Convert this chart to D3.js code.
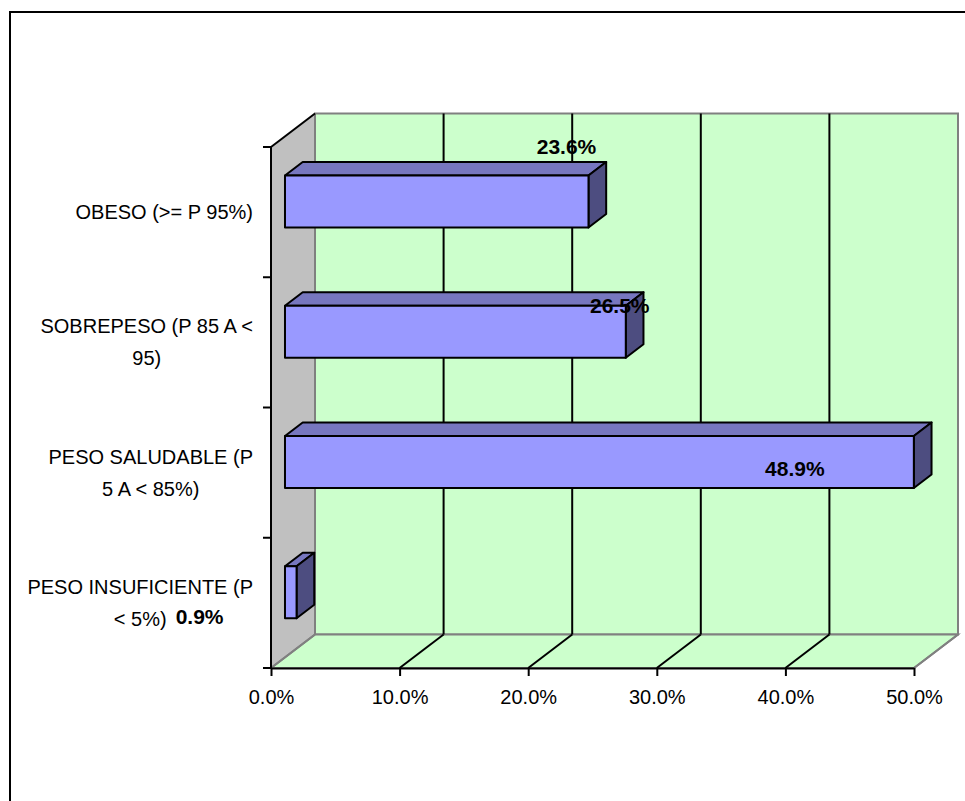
<!DOCTYPE html>
<html>
<head>
<meta charset="utf-8">
<script src="https://cdn.jsdelivr.net/npm/d3@7"></script>
<style>
  html, body { margin: 0; padding: 0; background: #ffffff; }
  svg { display: block; font-family: "Liberation Sans", Arial, sans-serif; }
</style>
</head>
<body>
<svg id="chart" width="965" height="801"></svg>
<script>
// Weight status categories (top to bottom) and their share
const categories = [
  "OBESO (>= P 95%)",
  "SOBREPESO (P 85 A < 95)",
  "PESO SALUDABLE (P 5 A < 85%)",
  "PESO INSUFICIENTE (P < 5%)"
];
const categoryLines = [
  ["OBESO (>= P 95%)"],
  ["SOBREPESO (P 85 A <", "95)"],
  ["PESO SALUDABLE (P", "5 A < 85%)"],
  ["PESO INSUFICIENTE (P", "< 5%)"]
];
const values = [0.236, 0.265, 0.489, 0.009];
const valueLabels = ["23.6%", "26.5%", "48.9%", "0.9%"];
const xTicks = [0, 0.1, 0.2, 0.3, 0.4, 0.5];

// Data label placement relative to the bar's front top-right corner
const labelShift = [[-22, -21], [-6, 7], [-119, 40], [-97, 58]];

const svg = d3.select("#chart");

// Outer chart frame
svg.append("rect")
  .attr("x", 10).attr("y", 12)
  .attr("width", 1000).attr("height", 900)
  .attr("fill", "#ffffff").attr("stroke", "#000").attr("stroke-width", 2);

// Plot geometry: front plane and 3D depth offset
const plotLeft = 271, plotRight = 914, plotTop = 147, plotBottom = 668;
const depth = [44, -33.5];
const x = d3.scaleLinear().domain([0, 0.5]).range([plotLeft, plotRight]);
const y = d3.scaleBand().domain(categories).range([plotTop, plotBottom]).paddingInner(0).paddingOuter(0);

const back = (px, py) => [px + depth[0], py + depth[1]];
const line = d3.line();

// Side wall (grey)
svg.append("path")
  .attr("d", line([[plotLeft, plotTop], back(plotLeft, plotTop), back(plotLeft, plotBottom), [plotLeft, plotBottom]]) + "Z")
  .attr("fill", "#c0c0c0").attr("stroke", "none");

// Back wall (green)
const [bx0, by0] = back(plotLeft, plotTop);
const [bx1, by1] = back(plotRight, plotBottom);
svg.append("rect")
  .attr("x", bx0).attr("y", by0)
  .attr("width", bx1 - bx0).attr("height", by1 - by0)
  .attr("fill", "#ccffcc").attr("stroke", "#808080").attr("stroke-width", 2);

// Floor
svg.append("path")
  .attr("d", line([[plotLeft, plotBottom], back(plotLeft, plotBottom), back(plotRight, plotBottom), [plotRight, plotBottom]]) + "Z")
  .attr("fill", "#ccffcc").attr("stroke", "#808080").attr("stroke-width", 2);

// Gridlines on back wall and floor
xTicks.forEach((t, i) => {
  const fx = x(t);
  const [gx, gy] = back(fx, plotBottom);
  const edge = (i === 0 || i === xTicks.length - 1);
  if (!edge) {
    svg.append("line")
      .attr("x1", gx).attr("x2", gx).attr("y1", by0).attr("y2", gy)
      .attr("stroke", "#000").attr("stroke-width", 2);
  }
  svg.append("line")
    .attr("x1", fx).attr("y1", plotBottom).attr("x2", gx).attr("y2", gy)
    .attr("stroke", edge ? "#808080" : "#000").attr("stroke-width", 2);
});
// Side wall vertical edge against back wall
svg.append("line")
  .attr("x1", bx0).attr("x2", bx0).attr("y1", by0).attr("y2", back(plotLeft, plotBottom)[1])
  .attr("stroke", "#808080").attr("stroke-width", 2);
// Top edge of side wall
svg.append("line")
  .attr("x1", plotLeft).attr("y1", plotTop).attr("x2", bx0).attr("y2", by0)
  .attr("stroke", "#000").attr("stroke-width", 2);

// Bars
const d0 = 0.318, d1 = 0.72;
const barH = y.bandwidth() * 0.4;
const bars = svg.append("g");
categories.forEach((c, i) => {
  const v = values[i];
  const cy = y(c) + y.bandwidth() / 2 + depth[1] * d0;
  const ox = depth[0] * d0;
  const x0 = x(0) + ox, x1 = x(v) + ox;
  const y0 = cy - barH / 2, y1 = cy + barH / 2;
  const ddx = depth[0] * (d1 - d0), ddy = depth[1] * (d1 - d0);
  const g = bars.append("g")
    .attr("stroke", "#000").attr("stroke-width", 2).attr("stroke-linejoin", "round");
  g.append("path")
    .attr("d", line([[x0, y0], [x0 + ddx, y0 + ddy], [x1 + ddx, y0 + ddy], [x1, y0]]) + "Z")
    .attr("fill", "#7777bf");
  g.append("path")
    .attr("d", line([[x1, y0], [x1 + ddx, y0 + ddy], [x1 + ddx, y1 + ddy], [x1, y1]]) + "Z")
    .attr("fill", "#4d4d80");
  g.append("rect")
    .attr("x", x0).attr("y", y0).attr("width", x1 - x0).attr("height", y1 - y0)
    .attr("fill", "#9999ff");
});

// Axes on the front plane
const xAxis = d3.axisBottom(x).tickValues(xTicks).tickFormat(d3.format(".1%"))
  .tickSize(8).tickSizeOuter(0);
const gAxis = svg.append("g").attr("transform", `translate(0,${plotBottom})`).call(xAxis);
gAxis.select(".domain").attr("stroke", "#000").attr("stroke-width", 2);
gAxis.selectAll(".tick line").attr("stroke", "#000").attr("stroke-width", 2);
gAxis.selectAll(".tick text")
  .attr("font-family", "Liberation Sans, Arial, sans-serif")
  .attr("font-size", 20).attr("fill", "#000").attr("y", 22);

// Category axis: ticks at band boundaries
svg.append("line")
  .attr("x1", plotLeft).attr("x2", plotLeft).attr("y1", plotTop).attr("y2", plotBottom)
  .attr("stroke", "#000").attr("stroke-width", 2);
const bounds = categories.map(c => y(c)).concat([plotBottom]);
svg.selectAll(".ytick").data(bounds).join("line")
  .attr("class", "ytick")
  .attr("x1", plotLeft - 8).attr("x2", plotLeft).attr("y1", d => d).attr("y2", d => d)
  .attr("stroke", "#000").attr("stroke-width", 2);

// Category labels, centred lines in a block ending at the axis
const labelRight = 253, lineGap = 32;
categories.forEach((c, i) => {
  const lines = categoryLines[i];
  const cy = y(c) + y.bandwidth() / 2;
  const g = svg.append("g");
  const texts = lines.map((t, k) => g.append("text")
    .attr("font-size", 20).attr("fill", "#000")
    .attr("text-anchor", "middle")
    .attr("y", cy + (k - (lines.length - 1) / 2) * lineGap)
    .attr("dy", "0.35em")
    .text(t));
  const w = d3.max(texts, t => t.node().getComputedTextLength());
  texts.forEach(t => t.attr("x", labelRight - w / 2));
});

// Value labels
categories.forEach((c, i) => {
  const cy = y(c) + y.bandwidth() / 2 + depth[1] * d0;
  const ex = x(values[i]) + depth[0] * d0;
  const ty = cy - barH / 2;
  svg.append("text")
    .attr("x", ex + labelShift[i][0]).attr("y", ty + labelShift[i][1])
    .attr("text-anchor", "middle")
    .attr("font-size", 21).attr("font-weight", "bold").attr("fill", "#000")
    .text(valueLabels[i]);
});
</script>
</body>
</html>
